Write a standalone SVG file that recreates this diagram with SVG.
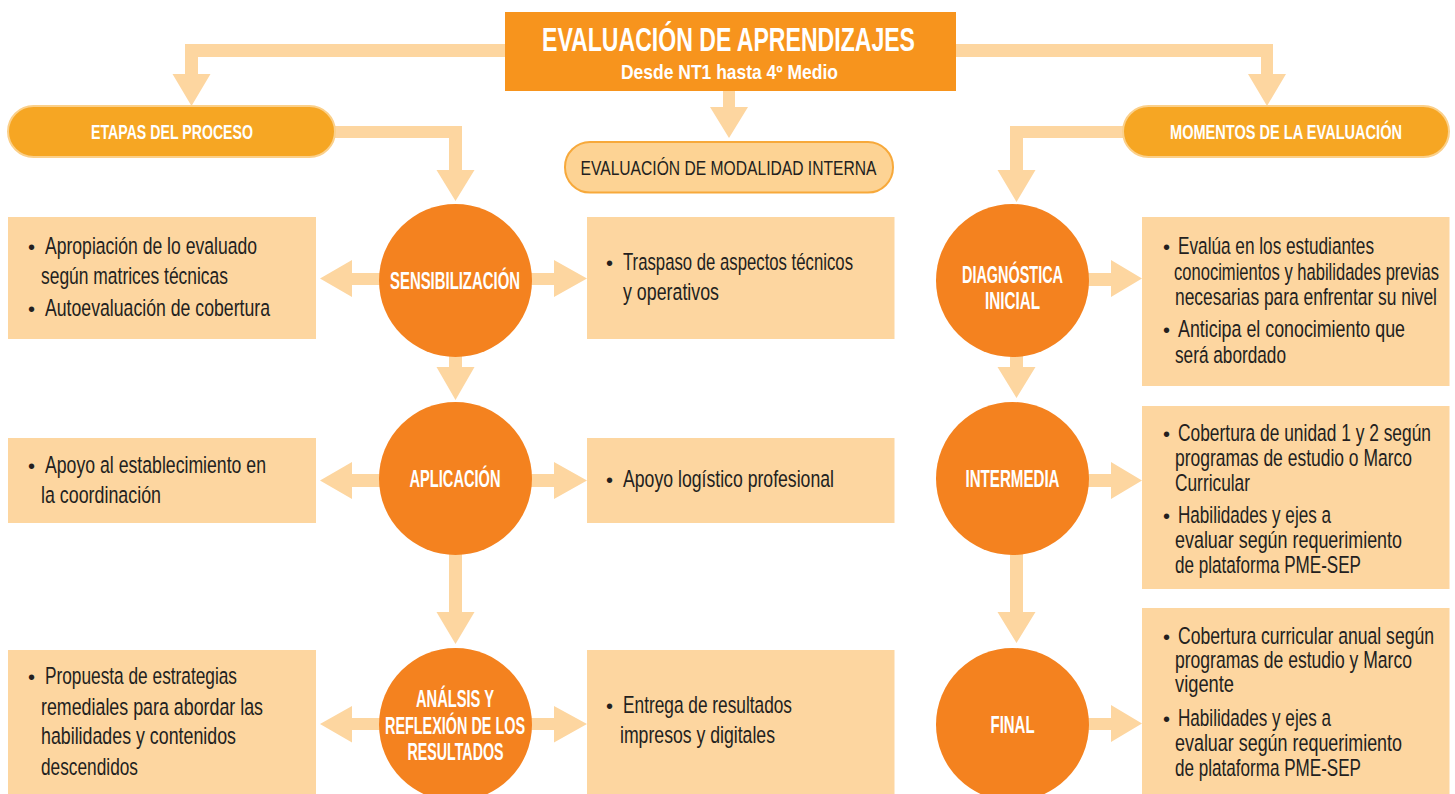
<svg xmlns="http://www.w3.org/2000/svg" width="1455" height="794" viewBox="0 0 1455 794">
<style>
  text { font-family: "Liberation Sans", Arial, sans-serif; }
  .conn { fill: #FDD6A0; }
  .box { fill: #FDD6A0; }
  .circ { fill: #F4821F; }
  .pill { fill: #F6A623; stroke: #FBD08A; stroke-width: 2; }
  .pill2 { fill: #FDD394; stroke: #F7A93B; stroke-width: 2; }
  .ct { fill: #FFFFFF; font-weight: bold; font-size: 14px; text-anchor: middle; }
  .bt { fill: #231F20; font-size: 16px; }
  .bu { fill: #231F20; font-size: 20px; }
  .pt { fill: #FFFFFF; font-weight: bold; font-size: 14.5px; text-anchor: middle; }
</style>
<rect width="1455" height="794" fill="#FFFFFF"/>

<g id="connectors">
  <polygon class="conn" points="505,44 185,44 185,74 172.5,74 191.5,106 210.5,74 198,74 198,57 505,57"/>
  <polygon class="conn" points="956,44 1273,44 1273,74 1286,74 1267,106 1248,74 1261,74 1261,57 956,57"/>
  <polygon class="conn" points="723,91 735,91 735,107 748,107 729,138 710,107 723,107"/>
  <polygon class="conn" points="335,126 462,126 462,170 474.5,170 455.5,201 436.5,170 449,170 449,138 335,138"/>
  <polygon class="conn" points="1123,126 1010,126 1010,170 997.5,170 1016.5,202 1035.5,170 1023,170 1023,138 1123,138"/>
  <polygon class="conn" points="449,280 462,280 462,367 474.5,367 455.5,400 436.5,367 449,367"/>
  <polygon class="conn" points="449,480 462,480 462,612 474.5,612 455.5,644 436.5,612 449,612"/>
  <polygon class="conn" points="1010,280 1023,280 1023,367 1035.5,367 1016.5,398 997.5,367 1010,367"/>
  <polygon class="conn" points="1010,480 1023,480 1023,612 1035.5,612 1016.5,643 997.5,612 1010,612"/>
  <polygon class="conn" points="455,273 352,273 352,260 320,278.5 352,297 352,285 455,285"/>
  <polygon class="conn" points="455,273 554,273 554,260 587,278.5 554,297 554,285 455,285"/>
  <polygon class="conn" points="455,474 352,474 352,462 320,480.5 352,499 352,487 455,487"/>
  <polygon class="conn" points="455,474 554,474 554,462 587,480.5 554,499 554,487 455,487"/>
  <polygon class="conn" points="455,718 352,718 352,706 320,724 352,742.5 352,730 455,730"/>
  <polygon class="conn" points="455,718 554,718 554,706 587,724 554,742.5 554,730 455,730"/>
  <polygon class="conn" points="1012,273 1111,273 1111,260 1142,278.5 1111,297 1111,286 1012,286"/>
  <polygon class="conn" points="1012,474 1111,474 1111,462 1142,480.5 1111,499 1111,487 1012,487"/>
  <polygon class="conn" points="1012,718 1111,718 1111,705 1142,723.5 1111,742 1111,730 1012,730"/>
</g>

<g id="title">
  <rect x="505" y="12" width="451" height="79" fill="#F7941D"/>
  <text transform="translate(728.5,51) scale(1,1.57)" fill="#FFFFFF" font-weight="bold" font-size="21" text-anchor="middle" textLength="373" lengthAdjust="spacingAndGlyphs">EVALUACIÓN DE APRENDIZAJES</text>
  <text transform="translate(729.5,79) scale(1,1.21)" fill="#FFFFFF" font-weight="bold" font-size="16.5" text-anchor="middle" textLength="217" lengthAdjust="spacingAndGlyphs">Desde NT1 hasta 4º Medio</text>
</g>

<g id="etapas">
  <rect class="pill" x="8" y="106" width="327" height="51" rx="25.5"/>
  <text class="pt" transform="translate(172,138.5) scale(1,1.45)" textLength="162" lengthAdjust="spacingAndGlyphs">ETAPAS DEL PROCESO</text>
</g>

<g id="modalidad">
  <rect class="pill2" x="565" y="142" width="328" height="50.5" rx="25"/>
  <text transform="translate(728.5,174.5) scale(1,1.4)" fill="#231F20" font-size="15" text-anchor="middle" textLength="296" lengthAdjust="spacingAndGlyphs">EVALUACIÓN DE MODALIDAD INTERNA</text>
</g>

<g id="momentos">
  <rect class="pill" x="1123" y="106" width="326" height="51" rx="25.5"/>
  <text class="pt" transform="translate(1286,139) scale(1,1.45)" textLength="232" lengthAdjust="spacingAndGlyphs">MOMENTOS DE LA EVALUACIÓN</text>
</g>

<g id="sensibilizacion">
  <circle class="circ" cx="455.5" cy="280.5" r="76.5"/>
  <text class="ct" transform="translate(455,289) scale(1,1.65)" textLength="130" lengthAdjust="spacingAndGlyphs">SENSIBILIZACIÓN</text>
</g>
<g id="aplicacion">
  <circle class="circ" cx="455.5" cy="478.5" r="76.5"/>
  <text class="ct" transform="translate(455,486.5) scale(1,1.65)" textLength="91" lengthAdjust="spacingAndGlyphs">APLICACIÓN</text>
</g>
<g id="analisis">
  <circle class="circ" cx="455.5" cy="724.5" r="76.5"/>
  <text class="ct" transform="translate(455,707) scale(1,1.65)" textLength="78" lengthAdjust="spacingAndGlyphs">ANÁLSIS Y</text>
  <text class="ct" transform="translate(455,733.5) scale(1,1.65)" textLength="140" lengthAdjust="spacingAndGlyphs">REFLEXIÓN DE LOS</text>
  <text class="ct" transform="translate(455.5,760) scale(1,1.65)" textLength="96" lengthAdjust="spacingAndGlyphs">RESULTADOS</text>
</g>

<g id="sens-left">
  <rect class="box" x="8" y="217" width="308" height="122"/>
  <text class="bu" x="28" y="254">•</text>
  <text class="bt" transform="translate(45,254) scale(1,1.44)" textLength="212" lengthAdjust="spacingAndGlyphs">Apropiación de lo evaluado</text>
  <text class="bt" transform="translate(41,284) scale(1,1.44)" textLength="187" lengthAdjust="spacingAndGlyphs">según matrices técnicas</text>
  <text class="bu" x="28" y="316">•</text>
  <text class="bt" transform="translate(45,316) scale(1,1.44)" textLength="225" lengthAdjust="spacingAndGlyphs">Autoevaluación de cobertura</text>
</g>
<g id="sens-right">
  <rect class="box" x="587" y="217" width="307.5" height="122"/>
  <text class="bu" x="606" y="270">•</text>
  <text class="bt" transform="translate(623,270) scale(1,1.44)" textLength="230" lengthAdjust="spacingAndGlyphs">Traspaso de aspectos técnicos</text>
  <text class="bt" transform="translate(623,300) scale(1,1.44)" textLength="96" lengthAdjust="spacingAndGlyphs">y operativos</text>
</g>
<g id="apl-left">
  <rect class="box" x="8" y="438" width="308" height="85"/>
  <text class="bu" x="28" y="473">•</text>
  <text class="bt" transform="translate(45,473) scale(1,1.44)" textLength="221" lengthAdjust="spacingAndGlyphs">Apoyo al establecimiento en</text>
  <text class="bt" transform="translate(41,503) scale(1,1.44)" textLength="120" lengthAdjust="spacingAndGlyphs">la coordinación</text>
</g>
<g id="apl-right">
  <rect class="box" x="587" y="438" width="307.5" height="85"/>
  <text class="bu" x="606" y="487">•</text>
  <text class="bt" transform="translate(623,487) scale(1,1.44)" textLength="211" lengthAdjust="spacingAndGlyphs">Apoyo logístico profesional</text>
</g>
<g id="ana-left">
  <rect class="box" x="8" y="650" width="308" height="150"/>
  <text class="bu" x="28" y="684">•</text>
  <text class="bt" transform="translate(45,684) scale(1,1.44)" textLength="192" lengthAdjust="spacingAndGlyphs">Propuesta de estrategias</text>
  <text class="bt" transform="translate(41,715) scale(1,1.44)" textLength="222" lengthAdjust="spacingAndGlyphs">remediales para  abordar las</text>
  <text class="bt" transform="translate(41,744) scale(1,1.44)" textLength="195" lengthAdjust="spacingAndGlyphs">habilidades y contenidos</text>
  <text class="bt" transform="translate(41,775) scale(1,1.44)" textLength="97" lengthAdjust="spacingAndGlyphs">descendidos</text>
</g>
<g id="ana-right">
  <rect class="box" x="587" y="650" width="307.5" height="150"/>
  <text class="bu" x="606" y="713">•</text>
  <text class="bt" transform="translate(623,713) scale(1,1.44)" textLength="169" lengthAdjust="spacingAndGlyphs">Entrega de resultados</text>
  <text class="bt" transform="translate(620,743) scale(1,1.44)" textLength="155" lengthAdjust="spacingAndGlyphs">impresos y digitales</text>
</g>

<g id="diagnostica">
  <circle class="circ" cx="1012.5" cy="280.5" r="76.5"/>
  <text class="ct" transform="translate(1012.5,283) scale(1,1.65)" textLength="101" lengthAdjust="spacingAndGlyphs">DIAGNÓSTICA</text>
  <text class="ct" transform="translate(1012.5,308.5) scale(1,1.65)" textLength="55" lengthAdjust="spacingAndGlyphs">INICIAL</text>
</g>
<g id="intermedia">
  <circle class="circ" cx="1012.5" cy="478.5" r="76.5"/>
  <text class="ct" transform="translate(1012.5,487) scale(1,1.65)" textLength="94" lengthAdjust="spacingAndGlyphs">INTERMEDIA</text>
</g>
<g id="final">
  <circle class="circ" cx="1012.5" cy="724.5" r="76.5"/>
  <text class="ct" transform="translate(1012.5,733) scale(1,1.65)" textLength="44" lengthAdjust="spacingAndGlyphs">FINAL</text>
</g>

<g id="diag-box">
  <rect class="box" x="1142" y="217" width="307.5" height="169"/>
  <text class="bu" x="1163" y="254">•</text>
  <text class="bt" transform="translate(1178,254) scale(1,1.44)" textLength="196" lengthAdjust="spacingAndGlyphs">Evalúa en los estudiantes</text>
  <text class="bt" transform="translate(1174,280) scale(1,1.44)" textLength="265" lengthAdjust="spacingAndGlyphs">conocimientos y habilidades previas</text>
  <text class="bt" transform="translate(1175,305) scale(1,1.44)" textLength="262" lengthAdjust="spacingAndGlyphs">necesarias para enfrentar su nivel</text>
  <text class="bu" x="1163" y="337">•</text>
  <text class="bt" transform="translate(1178,337) scale(1,1.44)" textLength="227" lengthAdjust="spacingAndGlyphs">Anticipa el conocimiento que</text>
  <text class="bt" transform="translate(1175,363) scale(1,1.44)" textLength="111" lengthAdjust="spacingAndGlyphs">será abordado</text>
</g>
<g id="inter-box">
  <rect class="box" x="1142" y="406" width="307.5" height="183"/>
  <text class="bu" x="1163" y="441">•</text>
  <text class="bt" transform="translate(1178,441) scale(1,1.44)" textLength="253" lengthAdjust="spacingAndGlyphs">Cobertura de unidad 1 y 2 según</text>
  <text class="bt" transform="translate(1175,466) scale(1,1.44)" textLength="237" lengthAdjust="spacingAndGlyphs">programas de estudio o Marco</text>
  <text class="bt" transform="translate(1175,491) scale(1,1.44)" textLength="75" lengthAdjust="spacingAndGlyphs">Curricular</text>
  <text class="bu" x="1163" y="523">•</text>
  <text class="bt" transform="translate(1178,523) scale(1,1.44)" textLength="153" lengthAdjust="spacingAndGlyphs">Habilidades y ejes a</text>
  <text class="bt" transform="translate(1175,548) scale(1,1.44)" textLength="227" lengthAdjust="spacingAndGlyphs">evaluar según requerimiento</text>
  <text class="bt" transform="translate(1175,573) scale(1,1.44)" textLength="186" lengthAdjust="spacingAndGlyphs">de plataforma PME-SEP</text>
</g>
<g id="final-box">
  <rect class="box" x="1142" y="608" width="307.5" height="190"/>
  <text class="bu" x="1163" y="644">•</text>
  <text class="bt" transform="translate(1178,644) scale(1,1.44)" textLength="256" lengthAdjust="spacingAndGlyphs">Cobertura curricular anual según</text>
  <text class="bt" transform="translate(1175,668) scale(1,1.44)" textLength="237" lengthAdjust="spacingAndGlyphs">programas de estudio y Marco</text>
  <text class="bt" transform="translate(1175,692) scale(1,1.44)" textLength="59" lengthAdjust="spacingAndGlyphs">vigente</text>
  <text class="bu" x="1163" y="726">•</text>
  <text class="bt" transform="translate(1178,726) scale(1,1.44)" textLength="153" lengthAdjust="spacingAndGlyphs">Habilidades y ejes a</text>
  <text class="bt" transform="translate(1175,751) scale(1,1.44)" textLength="227" lengthAdjust="spacingAndGlyphs">evaluar según requerimiento</text>
  <text class="bt" transform="translate(1175,776) scale(1,1.44)" textLength="186" lengthAdjust="spacingAndGlyphs">de plataforma PME-SEP</text>
</g>
</svg>
